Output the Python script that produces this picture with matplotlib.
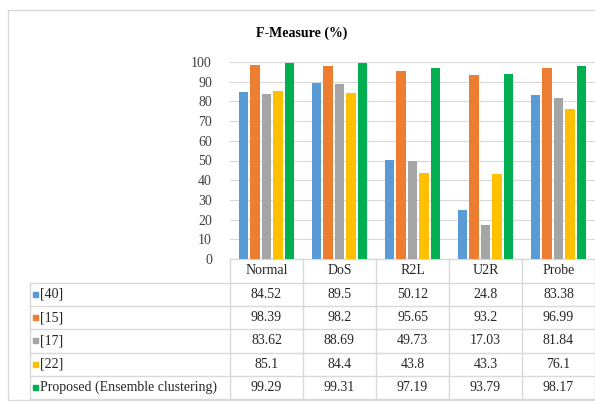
import matplotlib
matplotlib.use('Agg')
import matplotlib.pyplot as plt
import numpy as np

# Data
categories = ['Normal', 'DoS', 'R2L', 'U2R', 'Probe']
series_names = ['[40]', '[15]', '[17]', '[22]', 'Proposed (Ensemble clustering)']
v40 = [84.52, 89.5, 50.12, 24.8, 83.38]
v15 = [98.39, 98.2, 95.65, 93.2, 96.99]
v17 = [83.62, 88.69, 49.73, 17.03, 81.84]
v22 = [85.1, 84.4, 43.8, 43.3, 76.1]
vprop = [99.29, 99.31, 97.19, 93.79, 98.17]
series_values = [v40, v15, v17, v22, vprop]
colors = ['#5B9BD5', '#ED7D31', '#A5A5A5', '#FFC000', '#00B050']
yticks = list(range(0, 101, 10))

plt.rcParams['font.family'] = ['Liberation Serif', 'DejaVu Serif']

W, H = 595, 401
fig = plt.figure(figsize=(W / 100, H / 100), dpi=100)

# background axes in pixel coordinates for frame + table
bg = fig.add_axes([0, 0, 1, 1])
bg.set_xlim(0, W)
bg.set_ylim(H, 0)
bg.axis('off')
bg.add_patch(plt.Rectangle((8, 10), W, H - 11, fill=False, ec='#D9D9D9', lw=1))

# bar axes
x0, x1 = 230, 595
y_top, y_bot = 62, 259
ax = fig.add_axes([x0 / W, 1 - y_bot / H, (x1 - x0) / W, (y_bot - y_top) / H])
n = len(series_names)
x = np.arange(len(categories))
bw = 0.125
gap = 0.033
for i, (vals, c) in enumerate(zip(series_values, colors)):
    off = (i - (n - 1) / 2) * (bw + gap)
    ax.bar(x + off, vals, width=bw, color=c, zorder=3)
ax.set_xlim(-0.5, len(categories) - 0.5)
ax.set_ylim(0, 100)
ax.set_yticks(yticks)
ax.set_yticklabels([str(t) for t in yticks], fontsize=10, color='#404040')
ax.yaxis.grid(True, color='#D9D9D9', lw=0.8, zorder=0)
ax.set_xticks([])
for s in ax.spines.values():
    s.set_visible(False)
ax.tick_params(axis='y', length=0, pad=13)
ax.patch.set_alpha(0)

fig.text(302 / W, 1 - 33 / H, 'F-Measure (%)', ha='center', va='center',
         fontsize=10, fontweight='bold')

# data table
col_edges = np.linspace(x0, x1, len(categories) + 1)
row_edges = [259, 283, 306, 329, 353, 376, 399]
lc = '#D9D9D9'
for xe in col_edges:
    bg.plot([xe, xe], [row_edges[0], row_edges[-1]], color=lc, lw=1)
bg.plot([30, 30], [row_edges[1], row_edges[-1]], color=lc, lw=1)
bg.plot([x0, x1], [row_edges[0], row_edges[0]], color=lc, lw=1)
for ye in row_edges[1:]:
    bg.plot([30, x1], [ye, ye], color=lc, lw=1)

for j, cat in enumerate(categories):
    cx = (col_edges[j] + col_edges[j + 1]) / 2
    bg.text(cx, (row_edges[0] + row_edges[1]) / 2, cat, ha='center', va='center',
            fontsize=10, color='#262626')
for i, (name, vals, c) in enumerate(zip(series_names, series_values, colors)):
    cy = (row_edges[i + 1] + row_edges[i + 2]) / 2
    bg.add_patch(plt.Rectangle((33, cy - 3), 5, 5, color=c))
    bg.text(40, cy, name, ha='left', va='center', fontsize=10, color='#262626')
    for j, v in enumerate(vals):
        cx = (col_edges[j] + col_edges[j + 1]) / 2
        bg.text(cx, cy, f'{v:g}', ha='center', va='center', fontsize=10, color='#262626')

fig.savefig('out.png', dpi=100)
